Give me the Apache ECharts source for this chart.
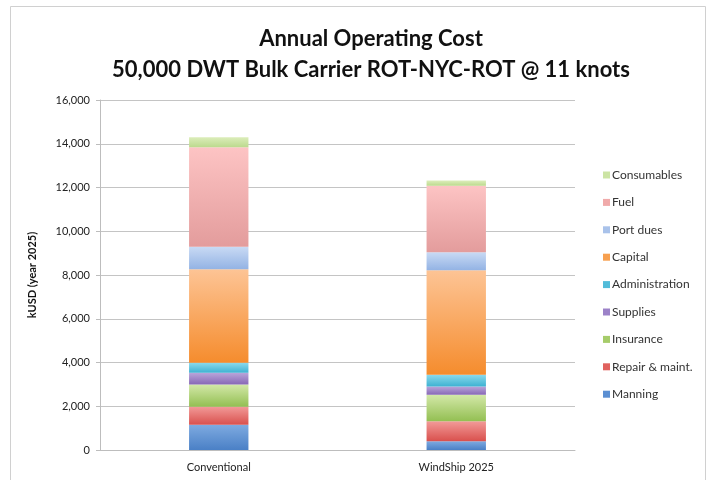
<!DOCTYPE html>
<html>
<head>
<meta charset="utf-8">
<script src="https://cdn.jsdelivr.net/npm/echarts@6/dist/echarts.min.js"></script>
<style>
  html, body { margin: 0; padding: 0; background: #fff; }
  #chart { width: 712px; height: 480px; }
</style>
</head>
<body>
<div id="chart"></div>
<script>
// Vessel options compared
const categories = ['Conventional', 'WindShip 2025'];

// Cost components, kUSD per year (stacked bottom to top)
const manning      = [1150, 400];
const repairMaint  = [830, 910];
const insurance    = [1020, 1215];
const supplies     = [530, 380];
const administration = [455, 530];
const capital      = [4280, 4780];
const portDues     = [1030, 830];
const fuel         = [4550, 3040];
const consumables  = [455, 230];

const yTicks = { min: 0, max: 16000, interval: 2000 };

const FONT = 'Lato, "Open Sans", sans-serif';

function grad(top, bottom) {
  return new echarts.graphic.LinearGradient(0, 0, 0, 1, [
    { offset: 0, color: top },
    { offset: 1, color: bottom }
  ]);
}

const seriesDefs = [
  { name: 'Manning',          data: manning,        top: '#7eaae0', bottom: '#4a80c6', icon: '#5b8fd2' },
  { name: 'Repair & maint.',  data: repairMaint,    top: '#f29a98', bottom: '#d9504d', icon: '#e0625e' },
  { name: 'Insurance',        data: insurance,      top: '#d3e8a8', bottom: '#93bf52', icon: '#a6cc6a' },
  { name: 'Supplies',         data: supplies,       top: '#b9a5da', bottom: '#8868b6', icon: '#9c82c8' },
  { name: 'Administration',   data: administration, top: '#8ad9ec', bottom: '#3eb2d2', icon: '#52bcd9' },
  { name: 'Capital',          data: capital,        top: '#fdc495', bottom: '#f58c2d', icon: '#f7a04f' },
  { name: 'Port dues',        data: portDues,       top: '#c9daf4', bottom: '#93b3e4', icon: '#a9c2ea' },
  { name: 'Fuel',             data: fuel,           top: '#fdc4c4', bottom: '#e39c9c', icon: '#f0aaaa' },
  { name: 'Consumables',      data: consumables,    top: '#dcedba', bottom: '#bcda8e', icon: '#cce4a4' }
];

const chart = echarts.init(document.getElementById('chart'), null, { renderer: 'canvas' });

const option = {
  backgroundColor: '#ffffff',
  animation: false,
  graphic: [
    {
      type: 'rect',
      shape: { x: 10.5, y: 6.5, width: 695, height: 480 },
      style: { fill: 'none', stroke: '#d0d0d0', lineWidth: 1 },
      silent: true
    }
  ],
  title: {
    text: 'Annual Operating Cost\n50,000 DWT Bulk Carrier ROT-NYC-ROT @ 11 knots',
    left: 366,
    textAlign: 'center',
    top: 18,
    textStyle: {
      fontFamily: FONT,
      fontWeight: 'bold',
      fontSize: 22,
      lineHeight: 31,
      color: '#111'
    }
  },
  legend: {
    orient: 'vertical',
    left: 598,
    top: 164,
    itemWidth: 7,
    itemHeight: 7,
    itemGap: 15.4,
    icon: 'rect',
    textStyle: { fontFamily: FONT, fontSize: 12, color: '#333', padding: [0, 0, 0, -3] },
    data: seriesDefs.slice().reverse().map(s => ({
      name: s.name,
      itemStyle: { color: s.icon }
    }))
  },
  grid: { left: 100, right: 137, top: 100, bottom: 30 },
  xAxis: {
    type: 'category',
    data: categories,
    axisLine: { lineStyle: { color: '#bdbdbd' } },
    axisTick: { show: false },
    axisLabel: { fontFamily: FONT, fontSize: 11, color: '#222', margin: 12 }
  },
  yAxis: {
    type: 'value',
    min: yTicks.min,
    max: yTicks.max,
    interval: yTicks.interval,
    name: 'kUSD (year 2025)',
    nameLocation: 'middle',
    nameGap: 62,
    nameTextStyle: { fontFamily: FONT, fontSize: 11, fontWeight: 'bold', color: '#111' },
    axisLine: { show: true, lineStyle: { color: '#bdbdbd' } },
    axisTick: { show: true, length: 4, lineStyle: { color: '#bdbdbd' } },
    splitLine: { lineStyle: { color: '#c4c4c4' } },
    axisLabel: {
      fontFamily: FONT,
      fontSize: 11,
      color: '#222',
      margin: 10,
      formatter: v => v.toLocaleString('en-US')
    }
  },
  series: seriesDefs.map(s => ({
    name: s.name,
    type: 'bar',
    stack: 'cost',
    barWidth: '25%',
    data: s.data,
    itemStyle: { color: grad(s.top, s.bottom) }
  }))
};

chart.setOption(option);
</script>
</body>
</html>
